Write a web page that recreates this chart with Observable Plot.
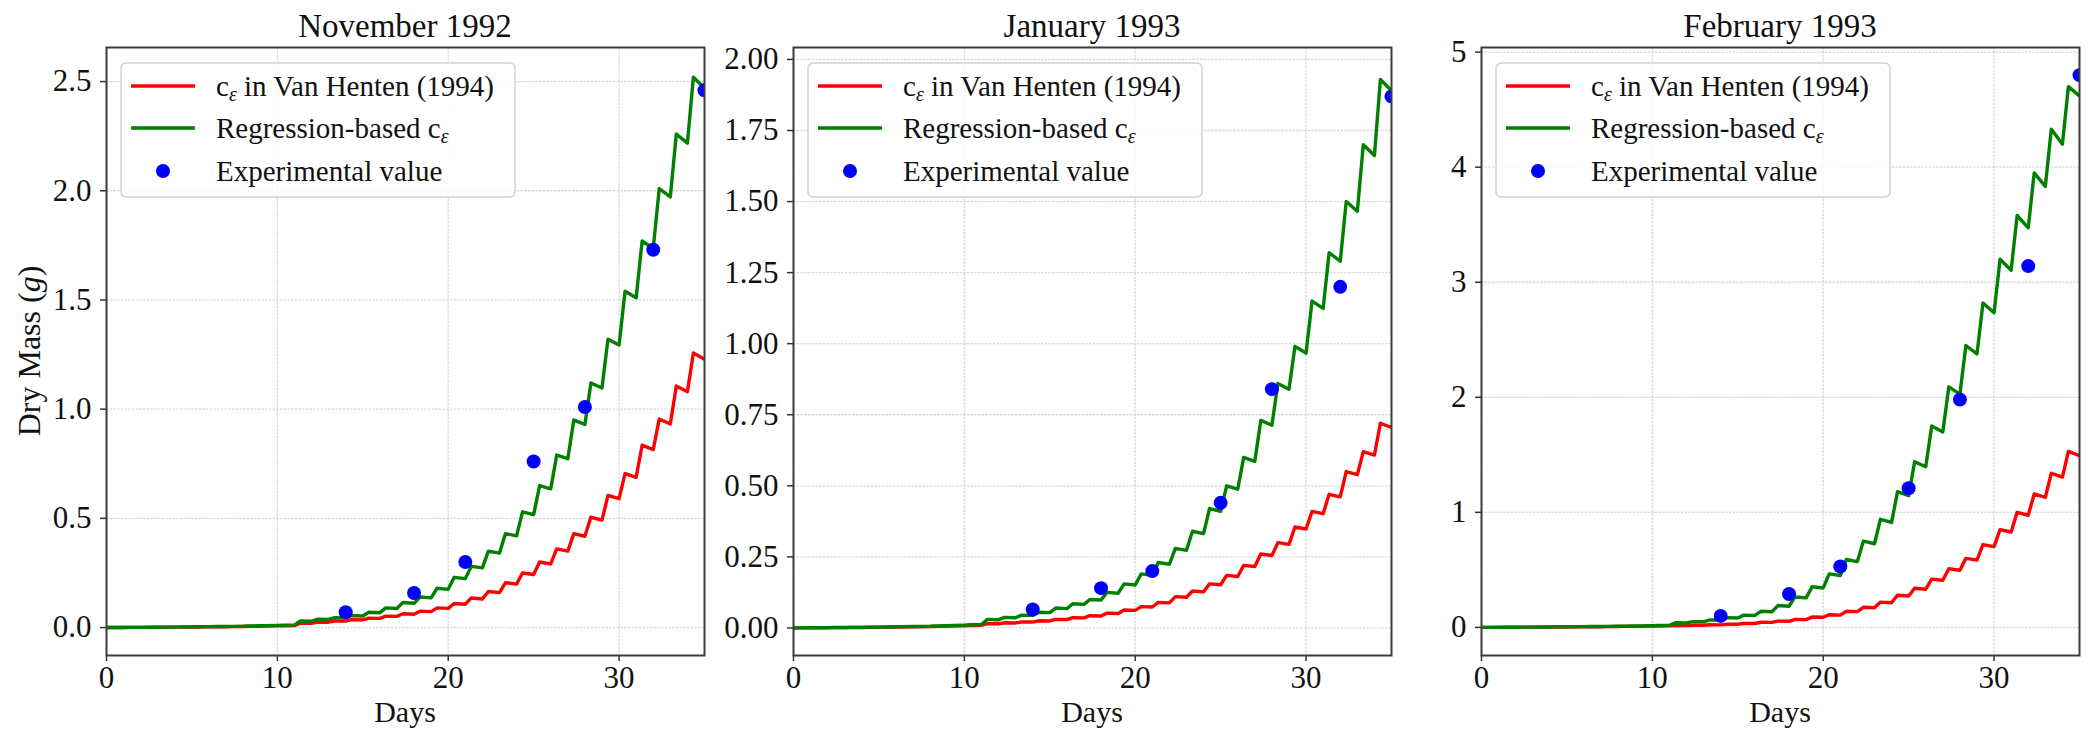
<!DOCTYPE html>
<html><head><meta charset="utf-8">
<script src="https://cdn.jsdelivr.net/npm/d3@7"></script>
<script src="https://cdn.jsdelivr.net/npm/@observablehq/plot@0.6"></script>
<style>
html,body{margin:0;padding:0;background:#fff;}
#wrap{position:relative;width:2093px;height:742px;overflow:hidden;font-family:"Liberation Serif","DejaVu Serif",serif;}
#wrap svg{position:absolute;top:0;font-family:"Liberation Serif","DejaVu Serif",serif;}
#wrap svg text{font-family:"Liberation Serif","DejaVu Serif",serif;}
</style></head><body><div id="wrap"></div>
<script>
// ---------- data ----------
const titles = ["November 1992", "January 1993", "February 1993"];
const xTicks = [0, 10, 20, 30];
const yTicksNov = [0, 0.5, 1.0, 1.5, 2.0, 2.5];
const yTicksJan = [0, 0.25, 0.5, 0.75, 1.0, 1.25, 1.5, 1.75, 2.0];
const yTicksFeb = [0, 1, 2, 3, 4, 5];

const expDays = [14, 18, 21, 25, 28, 32, 35];
const expNov = [0.07, 0.158, 0.30, 0.76, 1.01, 1.73, 2.46];
const expJan = [0.065, 0.14, 0.20, 0.44, 0.84, 1.20, 1.87];
const expFeb = [0.10, 0.29, 0.53, 1.21, 1.98, 3.14, 4.80];

// value at the start of each day (day 0..35) and daily peak (day 0..34)
const novGreenTrough = [0, 0.0005, 0.001, 0.0015, 0.002, 0.003, 0.004, 0.005, 0.006, 0.008, 0.010, 0.012,
  0.029, 0.037, 0.044, 0.053, 0.068, 0.087, 0.111, 0.136, 0.175, 0.224, 0.273, 0.341, 0.420, 0.517, 0.635, 0.773, 0.930, 1.097, 1.294, 1.510, 1.736, 1.972, 2.218, 2.470];
const novGreenPeak = [0.0003, 0.0008, 0.0013, 0.0018, 0.0025, 0.0035, 0.0045, 0.0055, 0.007, 0.009, 0.011,
  0.030, 0.038, 0.045, 0.055, 0.070, 0.090, 0.115, 0.140, 0.180, 0.230, 0.280, 0.350, 0.430, 0.530, 0.650, 0.790, 0.950, 1.120, 1.320, 1.540, 1.770, 2.010, 2.260, 2.520];
const novRedTrough = [0, 0.0004, 0.0008, 0.0012, 0.0017, 0.0023, 0.003, 0.0038, 0.0047, 0.006, 0.0075, 0.009,
  0.0195, 0.0245, 0.0295, 0.035, 0.042, 0.051, 0.061, 0.073, 0.088, 0.107, 0.131, 0.160, 0.199, 0.243, 0.291, 0.350, 0.418, 0.492, 0.590, 0.688, 0.815, 0.932, 1.080, 1.228];
const novRedPeak = [0.0002, 0.0006, 0.001, 0.0014, 0.002, 0.0026, 0.0034, 0.0042, 0.0053, 0.0067, 0.0083,
  0.020, 0.025, 0.030, 0.036, 0.043, 0.052, 0.063, 0.075, 0.090, 0.110, 0.135, 0.165, 0.205, 0.250, 0.300, 0.360, 0.430, 0.505, 0.605, 0.705, 0.835, 0.955, 1.106, 1.257];

const janGreenTrough = [0, 0.0005, 0.001, 0.0015, 0.002, 0.003, 0.004, 0.005, 0.006, 0.008, 0.010, 0.012,
  0.029, 0.036, 0.044, 0.054, 0.068, 0.083, 0.098, 0.122, 0.151, 0.185, 0.224, 0.273, 0.332, 0.410, 0.488, 0.586, 0.713, 0.840, 0.967, 1.124, 1.290, 1.466, 1.662, 1.890];
const janGreenPeak = [0.0003, 0.0008, 0.0013, 0.0018, 0.0025, 0.0035, 0.0045, 0.0055, 0.007, 0.009, 0.011,
  0.030, 0.037, 0.045, 0.055, 0.070, 0.085, 0.100, 0.125, 0.155, 0.190, 0.230, 0.280, 0.340, 0.420, 0.500, 0.600, 0.730, 0.860, 0.990, 1.150, 1.320, 1.500, 1.700, 1.930];
const janRedTrough = [0, 0.0004, 0.0008, 0.0012, 0.0017, 0.0023, 0.003, 0.0038, 0.0047, 0.006, 0.0075, 0.009,
  0.0147, 0.0176, 0.0206, 0.0245, 0.0294, 0.0353, 0.0421, 0.051, 0.0617, 0.0735, 0.088, 0.108, 0.127, 0.152, 0.181, 0.216, 0.255, 0.294, 0.348, 0.402, 0.461, 0.539, 0.608, 0.705];
const janRedPeak = [0.0002, 0.0006, 0.001, 0.0014, 0.002, 0.0026, 0.0034, 0.0042, 0.0053, 0.0067, 0.0083,
  0.015, 0.018, 0.021, 0.025, 0.030, 0.036, 0.043, 0.052, 0.063, 0.075, 0.090, 0.110, 0.130, 0.155, 0.185, 0.220, 0.260, 0.300, 0.355, 0.410, 0.470, 0.550, 0.620, 0.720];

const febGreenTrough = [0, 0.001, 0.002, 0.003, 0.004, 0.005, 0.007, 0.008, 0.010, 0.012, 0.015, 0.018,
  0.039, 0.049, 0.063, 0.082, 0.104, 0.136, 0.184, 0.257, 0.343, 0.451, 0.572, 0.727, 0.912, 1.145, 1.397, 1.698, 2.027, 2.377, 2.735, 3.104, 3.473, 3.832, 4.200, 4.620];
const febGreenPeak = [0.0005, 0.0015, 0.0025, 0.0035, 0.0045, 0.006, 0.0075, 0.009, 0.011, 0.0135, 0.0165,
  0.040, 0.050, 0.065, 0.085, 0.107, 0.140, 0.190, 0.265, 0.354, 0.465, 0.590, 0.750, 0.940, 1.180, 1.440, 1.750, 2.090, 2.450, 2.820, 3.200, 3.580, 3.950, 4.330, 4.700];
const febRedTrough = [0, 0.0008, 0.0016, 0.0024, 0.0032, 0.004, 0.0055, 0.0065, 0.008, 0.0095, 0.012, 0.0145,
  0.0156, 0.0185, 0.0224, 0.0273, 0.0341, 0.0439, 0.0536, 0.068, 0.088, 0.107, 0.137, 0.171, 0.215, 0.273, 0.332, 0.410, 0.497, 0.585, 0.702, 0.829, 0.975, 1.131, 1.307, 1.492];
const febRedPeak = [0.0004, 0.0012, 0.002, 0.0028, 0.0036, 0.0048, 0.006, 0.0072, 0.0088, 0.0108, 0.013,
  0.016, 0.019, 0.023, 0.028, 0.035, 0.045, 0.055, 0.070, 0.090, 0.110, 0.140, 0.175, 0.220, 0.280, 0.340, 0.420, 0.510, 0.600, 0.720, 0.850, 1.000, 1.160, 1.340, 1.530];

// ---------- build ----------
const PEAK_SHIFT = 0.35; // time of daily peak within a day
function zigzag(troughs, peaks) {
  const pts = [];
  for (let d = 0; d < peaks.length; d++) {
    pts.push({day: d, mass: troughs[d]});
    pts.push({day: d + PEAK_SHIFT, mass: peaks[d]});
  }
  pts.push({day: peaks.length, mass: troughs[peaks.length]});
  return pts;
}
function points(days, vals) { return days.map((d, i) => ({day: d, mass: vals[i]})); }

const panels = [
  {title: titles[0], red: zigzag(novRedTrough, novRedPeak), green: zigzag(novGreenTrough, novGreenPeak), exp: points(expDays, expNov), ticks: yTicksNov, fmt: d3.format(".1f"), domain: [-0.128, 2.656]},
  {title: titles[1], red: zigzag(janRedTrough, janRedPeak), green: zigzag(janGreenTrough, janGreenPeak), exp: points(expDays, expJan), ticks: yTicksJan, fmt: d3.format(".2f"), domain: [-0.097, 2.042]},
  {title: titles[2], red: zigzag(febRedTrough, febRedPeak), green: zigzag(febGreenTrough, febGreenPeak), exp: points(expDays, expFeb), ticks: yTicksFeb, fmt: d3.format("d"), domain: [-0.244, 5.04]}
];

const FONT = '"Liberation Serif","DejaVu Serif",serif';
const plotLefts = [106, 793, 1481];
const ML = 106, PW = 598, MR = 4, MT = 47, H = 742, MB = 87;
const wrap = document.getElementById("wrap");

panels.forEach((p, i) => {
  const chart = Plot.plot({
    width: ML + PW + MR, height: H,
    marginLeft: ML, marginRight: MR, marginTop: MT, marginBottom: MB,
    style: {fontFamily: FONT, fontSize: "31px", background: "transparent", color: "#000", overflow: "visible"},
    x: {domain: [0, 35]},
    y: {domain: p.domain},
    marks: [
      Plot.gridX(xTicks, {stroke: "#c8c8c8", strokeOpacity: 0.7, strokeWidth: 1.3, strokeDasharray: "2.5,1.2"}),
      Plot.gridY(p.ticks, {stroke: "#c8c8c8", strokeOpacity: 0.7, strokeWidth: 1.3, strokeDasharray: "2.5,1.2"}),
      Plot.line(p.red, {x: "day", y: "mass", stroke: "#ff0000", strokeWidth: 3.4, clip: true}),
      Plot.line(p.green, {x: "day", y: "mass", stroke: "#008000", strokeWidth: 3.4, clip: true}),
      Plot.dot(p.exp, {x: "day", y: "mass", r: 7, fill: "#0000ff", stroke: "none", clip: true}),
      Plot.axisX({ticks: xTicks, tickSize: 6, tickPadding: 4, label: null, stroke: "#333", fill: "#111", strokeWidth: 1.5, fontFamily: FONT, fontSize: 31}),
      Plot.axisY({ticks: p.ticks, tickFormat: p.fmt, tickSize: 6, tickPadding: 9, label: null, stroke: "#333", fill: "#111", strokeWidth: 1.5, fontFamily: FONT, fontSize: 31}),
      Plot.frame({stroke: "#3c3c3c", strokeWidth: 2})
    ]
  });
  chart.style.left = (plotLefts[i] - ML) + "px";
  wrap.appendChild(chart);
});

// ---------- titles, labels, legends ----------
const ov = d3.select(wrap).append("svg")
  .attr("width", 2093).attr("height", 742)
  .style("left", "0px").style("font-family", FONT).style("pointer-events", "none");

panels.forEach((p, i) => {
  const L = plotLefts[i], cx = L + PW / 2;
  ov.append("text").attr("x", cx).attr("y", 37).attr("text-anchor", "middle")
    .attr("font-size", 33).attr("fill", "#111").text(p.title);
  ov.append("text").attr("x", cx).attr("y", 722).attr("text-anchor", "middle")
    .attr("font-size", 30).attr("fill", "#111").text("Days");

  const g = ov.append("g");
  g.append("rect").attr("x", L + 15).attr("y", 63).attr("width", 394).attr("height", 134)
    .attr("rx", 5).attr("fill", "#fff").attr("fill-opacity", 0.85)
    .attr("stroke", "#d2d2d2").attr("stroke-width", 1.5);
  g.append("line").attr("x1", L + 25).attr("x2", L + 89).attr("y1", 86).attr("y2", 86)
    .attr("stroke", "#ff0000").attr("stroke-width", 3.4);
  g.append("line").attr("x1", L + 25).attr("x2", L + 89).attr("y1", 128).attr("y2", 128)
    .attr("stroke", "#008000").attr("stroke-width", 3.4);
  g.append("circle").attr("cx", L + 57).attr("cy", 171).attr("r", 7).attr("fill", "#0000ff");

  const t1 = g.append("text").attr("x", L + 110).attr("y", 96).attr("font-size", 29).attr("fill", "#111");
  t1.append("tspan").text("c");
  t1.append("tspan").attr("font-size", 20).attr("font-style", "italic").attr("dy", 5).text("ε");
  t1.append("tspan").attr("dy", -5).text(" in Van Henten (1994)");
  const t2 = g.append("text").attr("x", L + 110).attr("y", 138).attr("font-size", 29).attr("fill", "#111");
  t2.append("tspan").text("Regression-based c");
  t2.append("tspan").attr("font-size", 20).attr("font-style", "italic").attr("dy", 5).text("ε");
  g.append("text").attr("x", L + 110).attr("y", 181).attr("font-size", 29).attr("fill", "#111")
    .text("Experimental value");
});

const yl = ov.append("text").attr("transform", "translate(29,351) rotate(-90)")
  .attr("text-anchor", "middle").attr("dominant-baseline", "central")
  .attr("font-size", 32).attr("fill", "#111");
yl.append("tspan").text("Dry Mass (");
yl.append("tspan").attr("font-style", "italic").text("g");
yl.append("tspan").text(")");
</script>
</body></html>
